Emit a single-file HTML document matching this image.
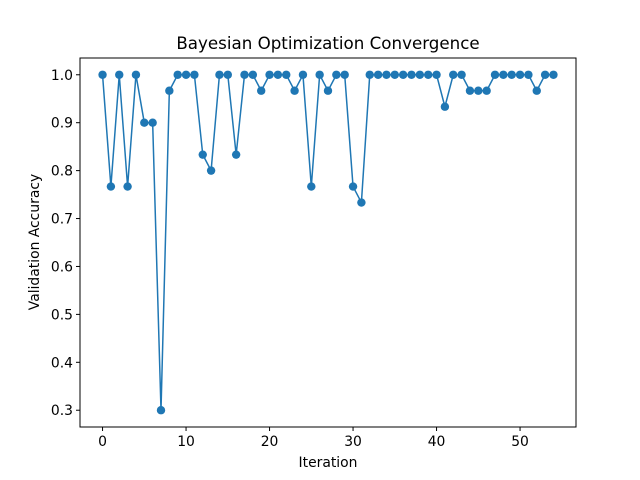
<!DOCTYPE html>
<html><head><meta charset="utf-8"><style>body{margin:0;background:#fff}svg{display:block;font-family:"DejaVu Sans","Liberation Sans",sans-serif}</style></head>
<body>
<svg id="chart" width="640" height="480">
<rect x="0" y="0" width="640" height="480" fill="#fff"/>
<text x="328" y="49" text-anchor="middle" font-size="16.7">Bayesian Optimization Convergence</text>
<text x="328" y="467" text-anchor="middle" font-size="13.9">Iteration</text>
<text transform="translate(39,242) rotate(-90)" text-anchor="middle" font-size="13.9">Validation Accuracy</text>
<g id="ticks"></g>
<g id="series"></g>
<rect x="80" y="58" width="496" height="369" fill="none" stroke="#000" stroke-width="1"/>
</svg>
<script>
const iterations = [];
for (let i = 0; i < 55; i++) iterations.push(i);
const accuracy = [1,0.7667,1,0.7667,1,0.9,0.9,0.3,0.9667,1,1,1,0.8333,0.8,1,1,0.8333,1,1,0.9667,1,1,1,0.9667,1,0.7667,1,0.9667,1,1,0.7667,0.7333,1,1,1,1,1,1,1,1,1,0.9333,1,1,0.9667,0.9667,0.9667,1,1,1,1,1,0.9667,1,1];
const xTicks = [0,10,20,30,40,50];
const yTicks = [0.3,0.4,0.5,0.6,0.7,0.8,0.9,1.0];

const L=80,R=576,T=58,B=427;
const xmin=-2.7,xmax=56.7,ymin=0.265,ymax=1.035;
const sx=v=>L+(v-xmin)/(xmax-xmin)*(R-L);
const sy=v=>B-(v-ymin)/(ymax-ymin)*(B-T);
const NS="http://www.w3.org/2000/svg";
const tg=document.getElementById('ticks'), sg=document.getElementById('series');
function mk(tag,attrs,parent){const e=document.createElementNS(NS,tag);for(const k in attrs)e.setAttribute(k,attrs[k]);parent.appendChild(e);return e;}
xTicks.forEach(t=>{
  const x=sx(t);
  const l=mk('line',{x1:x,x2:x,y1:B,y2:B+4,stroke:'#000'},tg);
  
  
  const tx=mk('text',{x:x,y:B+19,'text-anchor':'middle','font-size':'13.9'},tg);
  tx.textContent=t;
  
  
});
yTicks.forEach(t=>{
  const y=sy(t);
  const l=mk('line',{x1:L-4,x2:L,y1:y,y2:y,stroke:'#000'},tg);
  
  
  const tx=mk('text',{x:L-7,y:y+5,'text-anchor':'end','font-size':'13.9'},tg);
  tx.textContent=t.toFixed(1);
  
  
});
const pts=iterations.map((x,i)=>sx(x).toFixed(2)+','+sy(accuracy[i]).toFixed(2)).join(' ');
const line=mk('polyline',{points:pts,fill:'none',stroke:'#1f77b4','stroke-width':'1.5'},sg);


iterations.forEach((x,i)=>{
  const c=mk('circle',{cx:sx(x),cy:sy(accuracy[i]),r:4.2,fill:'#1f77b4'},sg);
  
  
});
</script>
</body></html>
